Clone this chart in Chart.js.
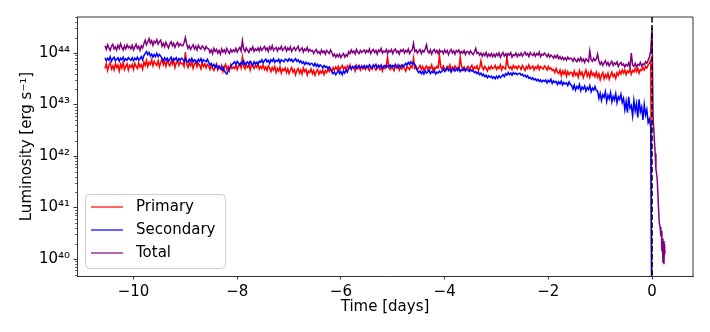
<!DOCTYPE html>
<html>
<head>
<meta charset="utf-8">
<script src="https://cdn.jsdelivr.net/npm/chart.js@4.4.0/dist/chart.umd.min.js"></script>
<style>
  html, body { margin: 0; padding: 0; background: #fff; }
  #wrap { width: 710px; height: 332px; }
</style>
</head>
<body>
<div id="wrap"><canvas id="chart" width="710" height="332"></canvas></div>
<script>
// time grid of the pre-merger run (days)
const TIME_START = -10.55;
const TIME_STEP = 0.025;
const MERGER_TIME = 0;

// log10 luminosity [erg/s] (20 samples per half day)
const LOG_PRIMARY = [
  43.70, 43.79, 43.66, 43.76, 43.81, 43.69, 43.75, 43.67, 43.80, 43.72, 43.77, 43.65, 43.78, 43.71, 43.82, 43.68, 43.74, 43.79, 43.67, 43.76,
  43.72, 43.78, 43.68, 43.80, 43.74, 43.70, 43.81, 43.73, 43.77, 43.69, 43.83, 43.76, 43.86, 43.74, 43.82, 43.78, 43.87, 43.75, 43.84, 43.79,
  43.76, 43.85, 43.73, 43.82, 43.88, 43.77, 43.83, 43.74, 43.86, 43.79, 43.75, 43.84, 43.78, 43.87, 43.72, 43.81, 43.85, 43.76, 43.83, 43.79,
  43.80, 43.74, 44.02, 43.79, 43.72, 43.81, 43.75, 43.83, 43.70, 43.78, 43.84, 43.73, 43.80, 43.76, 43.69, 43.82, 43.74, 43.79, 43.71, 43.78,
  43.75, 43.68, 43.77, 43.70, 43.66, 43.74, 43.79, 43.67, 43.73, 43.69, 43.76, 43.64, 43.72, 43.78, 43.68, 43.74, 43.66, 43.77, 43.70, 43.73,
  43.70, 43.77, 43.68, 43.75, 43.79, 43.71, 43.92, 43.73, 43.69, 43.78, 43.72, 43.76, 43.67, 43.80, 43.74, 43.70, 43.77, 43.72, 43.79, 43.69,
  43.74, 43.70, 43.77, 43.68, 43.73, 43.66, 43.75, 43.71, 43.64, 43.72, 43.67, 43.74, 43.62, 43.70, 43.65, 43.73, 43.61, 43.69, 43.66, 43.71,
  43.62, 43.69, 43.60, 43.67, 43.72, 43.63, 43.68, 43.58, 43.66, 43.70, 43.61, 43.67, 43.59, 43.71, 43.64, 43.68, 43.57, 43.65, 43.62, 43.69,
  43.60, 43.66, 43.57, 43.64, 43.68, 43.59, 43.65, 43.61, 43.67, 43.58, 43.66, 43.62, 43.69, 43.64, 43.70, 43.63, 43.72, 43.67, 43.73, 43.68,
  43.74, 43.67, 43.72, 43.76, 43.69, 43.73, 43.66, 43.75, 43.70, 43.77, 43.68, 43.74, 43.71, 43.65, 43.76, 43.70, 43.73, 43.67, 43.75, 43.69,
  43.72, 43.68, 43.75, 43.70, 43.66, 43.74, 43.69, 43.77, 43.71, 43.67, 43.73, 43.76, 43.68, 43.72, 43.65, 43.74, 43.70, 43.75, 43.92, 43.71,
  43.68, 43.74, 43.70, 43.66, 43.75, 43.71, 43.77, 43.67, 43.73, 43.69, 43.76, 43.70, 43.65, 43.74, 43.71, 43.68, 43.75, 43.72, 43.90, 43.70,
  43.73, 43.67, 43.72, 43.76, 43.69, 43.74, 43.66, 43.71, 43.75, 43.68, 43.73, 43.70, 43.77, 43.66, 43.72, 43.69, 43.74, 43.71, 43.96, 43.73,
  43.69, 43.75, 43.70, 43.66, 43.74, 43.71, 43.77, 43.68, 43.73, 43.67, 43.75, 43.70, 43.72, 43.68, 43.92, 43.74, 43.69, 43.73, 43.66, 43.71,
  43.74, 43.68, 43.72, 43.76, 43.67, 43.73, 43.70, 43.75, 43.66, 43.71, 43.85, 43.72, 43.68, 43.74, 43.70, 43.65, 43.73, 43.69, 43.75, 43.70,
  43.71, 43.76, 43.68, 43.73, 43.70, 43.77, 43.67, 43.74, 43.71, 43.69, 43.92, 43.75, 43.70, 43.73, 43.68, 43.76, 43.71, 43.74, 43.69, 43.75,
  43.73, 43.68, 43.76, 43.71, 43.66, 43.74, 43.70, 43.77, 43.69, 43.72, 43.75, 43.67, 43.73, 43.70, 43.76, 43.68, 43.74, 43.71, 43.69, 43.75,
  43.72, 43.67, 43.74, 43.69, 43.71, 43.66, 43.68, 43.62, 43.70, 43.63, 43.60, 43.67, 43.56, 43.65, 43.59, 43.66, 43.55, 43.64, 43.58, 43.63,
  43.62, 43.55, 43.65, 43.57, 43.61, 43.53, 43.66, 43.58, 43.63, 43.52, 43.60, 43.67, 43.55, 43.62, 43.53, 43.65, 43.57, 43.61, 43.54, 43.63,
  43.53, 43.60, 43.48, 43.57, 43.62, 43.50, 43.58, 43.52, 43.61, 43.49, 43.57, 43.63, 43.54, 43.59, 43.51, 43.62, 43.57, 43.65, 43.59, 43.67,
  43.61, 43.67, 43.58, 43.65, 43.62, 43.69, 43.59, 43.66, 43.63, 43.70, 43.64, 43.71, 43.61, 43.68, 43.66, 43.72, 43.67, 43.74, 43.71, 43.77,
  43.80, 43.86, 38.00
];

const LOG_SECONDARY = [
  43.91, 43.85, 43.90, 43.86, 43.93, 43.84, 43.89, 43.92, 43.85, 43.88, 43.91, 43.84, 43.90, 43.87, 43.92, 43.85, 43.89, 43.86, 43.91, 43.88,
  43.86, 43.91, 43.85, 43.90, 43.87, 43.92, 43.86, 43.89, 43.93, 43.87, 43.95, 43.99, 44.03, 43.97, 44.01, 43.94, 43.98, 43.92, 43.97, 43.93,
  43.99, 43.93, 43.97, 43.94, 43.89, 43.85, 43.91, 43.86, 43.90, 43.84, 43.88, 43.92, 43.85, 43.89, 43.87, 43.91, 43.84, 43.89, 43.86, 43.90,
  43.88, 43.83, 43.89, 43.85, 43.82, 43.88, 43.84, 43.90, 43.83, 43.87, 43.85, 43.81, 43.88, 43.84, 43.89, 43.82, 43.87, 43.85, 43.83, 43.88,
  43.82, 43.77, 43.80, 43.74, 43.78, 43.72, 43.76, 43.70, 43.75, 43.71, 43.68, 43.73, 43.66, 43.62, 43.59, 43.65, 43.70, 43.74, 43.78, 43.80,
  43.83, 43.78, 43.84, 43.80, 43.76, 43.82, 43.79, 43.85, 43.77, 43.81, 43.83, 43.78, 43.84, 43.80, 43.76, 43.83, 43.79, 43.82, 43.78, 43.84,
  43.82, 43.87, 43.81, 43.85, 43.88, 43.83, 43.86, 43.80, 43.87, 43.84, 43.89, 43.82, 43.86, 43.84, 43.88, 43.81, 43.87, 43.85, 43.83, 43.88,
  43.87, 43.84, 43.89, 43.85, 43.88, 43.83, 43.86, 43.89, 43.84, 43.87, 43.82, 43.85, 43.80, 43.83, 43.78, 43.82, 43.79, 43.81, 43.77, 43.80,
  43.79, 43.75, 43.80, 43.74, 43.78, 43.73, 43.77, 43.75, 43.71, 43.76, 43.72, 43.74, 43.70, 43.73, 43.68, 43.65, 43.60, 43.63, 43.58, 43.62,
  43.66, 43.60, 43.64, 43.58, 43.65, 43.61, 43.67, 43.63, 43.70, 43.74, 43.69, 43.73, 43.71, 43.75, 43.70, 43.73, 43.76, 43.71, 43.74, 43.72,
  43.76, 43.71, 43.75, 43.72, 43.77, 43.73, 43.70, 43.76, 43.74, 43.78, 43.71, 43.75, 43.73, 43.77, 43.70, 43.74, 43.76, 43.72, 43.75, 43.73,
  43.77, 43.72, 43.76, 43.73, 43.78, 43.74, 43.71, 43.76, 43.73, 43.77, 43.74, 43.76, 43.80, 43.77, 43.82, 43.78, 43.83, 43.79, 43.81, 43.78,
  43.72, 43.66, 43.62, 43.65, 43.60, 43.64, 43.59, 43.66, 43.61, 43.63, 43.67, 43.60, 43.64, 43.62, 43.66, 43.59, 43.63, 43.61, 43.65, 43.62,
  43.65, 43.69, 43.64, 43.68, 43.71, 43.66, 43.69, 43.63, 43.68, 43.70, 43.65, 43.69, 43.66, 43.71, 43.64, 43.68, 43.66, 43.70, 43.65, 43.69,
  43.67, 43.64, 43.68, 43.65, 43.66, 43.62, 43.64, 43.60, 43.63, 43.58, 43.61, 43.56, 43.59, 43.54, 43.57, 43.52, 43.56, 43.53, 43.55, 43.51,
  43.54, 43.50, 43.55, 43.51, 43.56, 43.52, 43.55, 43.58, 43.54, 43.60, 43.57, 43.62, 43.58, 43.61, 43.57, 43.62, 43.59, 43.61, 43.58, 43.60,
  43.61, 43.57, 43.59, 43.55, 43.57, 43.53, 43.56, 43.51, 43.53, 43.49, 43.52, 43.48, 43.50, 43.46, 43.49, 43.45, 43.48, 43.44, 43.47, 43.45,
  43.48, 43.42, 43.47, 43.44, 43.49, 43.41, 43.46, 43.43, 43.45, 43.39, 43.44, 43.40, 43.46, 43.38, 43.43, 43.40, 43.42, 43.37, 43.44, 43.39,
  43.37, 43.30, 43.38, 43.28, 43.35, 43.31, 43.39, 43.27, 43.34, 43.30, 43.36, 43.26, 43.33, 43.29, 43.37, 43.25, 43.32, 43.28, 43.35, 43.27,
  43.26, 43.12, 43.22, 43.08, 43.19, 43.14, 43.25, 43.06, 43.18, 43.11, 43.23, 43.05, 43.16, 43.09, 43.21, 43.03, 43.15, 43.10, 43.20, 43.04,
  43.12, 42.90, 43.06, 42.84, 43.15, 42.93, 42.98, 42.78, 43.08, 42.88, 43.02, 42.75, 43.10, 42.86, 42.95, 42.70, 43.00, 42.80, 42.90, 42.65,
  42.72, 42.55, 38.00
];

const LOG_TOTAL = [
  44.14, 44.07, 44.16, 44.10, 44.05, 44.13, 44.17, 44.08, 44.12, 44.06, 44.15, 44.09, 44.18, 44.11, 44.06, 44.14, 44.08, 44.16, 44.10, 44.13,
  44.08, 44.15, 44.06, 44.12, 44.17, 44.09, 44.13, 44.05, 44.14, 44.10, 44.18, 44.25, 44.16, 44.22, 44.28, 44.19, 44.24, 44.15, 44.23, 44.20,
  44.26, 44.17, 44.22, 44.25, 44.13, 44.19, 44.12, 44.21, 44.15, 44.10, 44.18, 44.22, 44.14, 44.19, 44.11, 44.17, 44.21, 44.13, 44.18, 44.15,
  44.14, 44.20, 44.30, 44.18, 44.09, 44.14, 44.07, 44.12, 44.16, 44.08, 44.13, 44.06, 44.15, 44.10, 44.08, 44.14, 44.11, 44.06, 44.13, 44.09,
  44.08, 44.01, 44.06, 43.99, 44.09, 44.03, 44.07, 44.00, 44.05, 43.98, 44.08, 44.02, 44.06, 44.00, 44.09, 44.03, 43.99, 44.07, 44.02, 44.06,
  44.03, 44.09, 44.02, 44.07, 44.11, 44.04, 44.24, 44.08, 44.03, 44.10, 44.05, 44.01, 44.09, 44.06, 44.12, 44.03, 44.08, 44.05, 44.10, 44.04,
  44.11, 44.05, 44.09, 44.13, 44.06, 44.10, 44.03, 44.12, 44.07, 44.14, 44.05, 44.09, 44.11, 44.04, 44.10, 44.07, 44.13, 44.05, 44.08, 44.12,
  44.04, 44.10, 44.06, 44.12, 44.03, 44.08, 44.11, 44.05, 44.09, 44.13, 44.04, 44.07, 44.10, 44.02, 44.08, 44.05, 44.11, 44.03, 44.07, 44.04,
  44.05, 43.99, 44.04, 44.07, 44.00, 44.03, 43.98, 44.06, 44.01, 44.04, 43.98, 44.05, 44.02, 43.99, 44.06, 44.01, 43.94, 43.98, 43.92, 43.97,
  43.93, 43.98, 43.91, 43.96, 43.99, 43.92, 43.97, 43.94, 44.03, 43.99, 44.06, 44.01, 44.04, 43.98, 44.07, 44.02, 43.99, 44.05, 44.01, 44.04,
  44.06, 44.00, 44.05, 44.02, 44.08, 43.99, 44.04, 44.07, 44.01, 44.05, 43.98, 44.06, 44.03, 44.09, 44.00, 44.04, 44.02, 44.07, 43.99, 44.05,
  44.02, 44.07, 43.99, 44.05, 44.08, 44.01, 44.04, 43.98, 44.06, 44.03, 44.07, 44.00, 44.05, 44.02, 44.08, 43.99, 44.04, 44.06, 44.19, 44.03,
  44.06, 44.00, 44.04, 44.07, 43.99, 44.05, 44.02, 44.08, 44.16, 44.03, 44.00, 44.06, 43.98, 44.04, 44.07, 44.01, 44.05, 43.99, 44.06, 44.02,
  44.04, 43.99, 44.06, 44.01, 44.05, 43.97, 44.03, 44.07, 44.00, 44.04, 43.98, 44.05, 44.02, 44.06, 43.99, 44.03, 44.00, 44.05, 43.97, 44.03,
  44.03, 43.98, 44.04, 44.00, 43.97, 44.02, 44.09, 43.99, 44.01, 43.96, 44.00, 43.94, 43.99, 43.95, 44.01, 43.93, 43.98, 43.94, 43.99, 43.93,
  43.98, 43.93, 43.99, 43.95, 44.00, 43.92, 43.97, 44.01, 43.94, 43.98, 43.93, 43.99, 43.96, 44.01, 43.92, 43.97, 43.95, 44.00, 43.93, 43.98,
  43.95, 44.00, 43.94, 43.98, 44.02, 43.96, 43.99, 43.93, 44.01, 43.97, 43.95, 44.00, 43.94, 43.99, 43.96, 44.02, 43.93, 43.98, 43.96, 44.00,
  43.97, 43.93, 43.98, 43.92, 43.96, 43.94, 43.90, 43.95, 43.91, 43.96, 43.89, 43.93, 43.88, 43.92, 43.87, 43.91, 43.86, 43.92, 43.88, 43.90,
  43.89, 43.84, 43.90, 43.86, 43.83, 43.89, 43.85, 43.91, 43.84, 43.88, 43.82, 43.89, 43.86, 43.83, 44.04, 43.87, 43.84, 43.90, 43.85, 43.88,
  43.98, 43.84, 43.78, 43.83, 43.76, 43.81, 43.85, 43.77, 43.82, 43.75, 43.80, 43.84, 43.76, 43.81, 43.78, 43.83, 43.74, 43.79, 43.82, 43.76,
  43.79, 43.73, 43.78, 43.75, 43.81, 43.72, 44.00, 43.77, 43.74, 43.80, 43.73, 43.78, 43.76, 43.82, 43.74, 43.79, 43.77, 43.83, 43.80, 43.86,
  43.92, 44.05, 44.49
];

// post-merger remnant
const POST_TIME = [0.02, 0.04, 0.06, 0.075, 0.085, 0.10, 0.12, 0.14, 0.155, 0.17, 0.18, 0.19, 0.20, 0.21, 0.22, 0.23, 0.24, 0.25];
const POST_LOG_TOTAL = [42.75, 42.40, 42.05, 41.75, 41.68, 41.55, 41.10, 40.70, 40.62, 40.45, 40.55, 40.15, 40.40, 39.93, 40.35, 39.90, 40.30, 40.10];

const X_TICKS = [-10, -8, -6, -4, -2, 0];
const Y_TICK_EXPONENTS = [40, 41, 42, 43, 44];
const X_MIN = -11.09, X_MAX = 0.79;
const Y_MIN = Math.pow(10, 39.67), Y_MAX = Math.pow(10, 44.70);

const SUP = '⁰¹²³⁴⁵⁶⁷⁸⁹';
const sup = n => String(n).split('').map(d => SUP[+d]).join('');
const mainTimes = LOG_TOTAL.map((_, i) => +(TIME_START + i * TIME_STEP).toFixed(3));
const toPoints = (times, logs) => logs.map((v, i) => ({ x: times[i], y: Math.pow(10, v) }));

Chart.defaults.font.family = '"DejaVu Sans", sans-serif';
Chart.defaults.font.size = 15;
Chart.defaults.color = '#000';

const extras = {
  id: 'extras',
  afterDatasetsDraw(chart) {
    const { ctx, chartArea: a, scales: { x } } = chart;
    const px = x.getPixelForValue(MERGER_TIME);
    ctx.save();
    ctx.strokeStyle = '#000';
    ctx.lineWidth = 1.5;
    ctx.setLineDash([5.5, 2.4]);
    ctx.beginPath();
    ctx.moveTo(px, a.top);
    ctx.lineTo(px, a.bottom);
    ctx.stroke();
    ctx.restore();
  },
  afterDraw(chart) {
    const { ctx, chartArea: a, scales: { y } } = chart;
    ctx.save();
    // top / right spines
    ctx.strokeStyle = '#000';
    ctx.lineWidth = 0.8;
    ctx.beginPath();
    ctx.moveTo(a.left, a.top); ctx.lineTo(a.right, a.top); ctx.lineTo(a.right, a.bottom);
    ctx.stroke();
    // minor log ticks
    ctx.lineWidth = 0.6;
    for (let e = 39; e <= 44; e++) {
      for (let k = 2; k <= 9; k++) {
        const v = k * Math.pow(10, e);
        if (v <= Y_MIN || v >= Y_MAX) continue;
        const py = Math.round(y.getPixelForValue(v)) + 0.5;
        ctx.beginPath();
        ctx.moveTo(a.left - 2, py); ctx.lineTo(a.left, py);
        ctx.stroke();
      }
    }
    // legend
    const bx = 85, by = 194, bw = 140, bh = 74;
    ctx.fillStyle = 'rgba(255,255,255,0.8)';
    ctx.strokeStyle = '#cccccc';
    ctx.lineWidth = 1;
    ctx.beginPath();
    ctx.roundRect(bx + 0.5, by + 0.5, bw, bh, 4);
    ctx.fill();
    ctx.stroke();
    ctx.font = '15px "DejaVu Sans"';
    ctx.textBaseline = 'middle';
    chart.data.datasets.forEach((ds, i) => {
      const ry = 207 + i * 23;
      ctx.strokeStyle = ds.borderColor;
      ctx.lineWidth = 1.2;
      ctx.beginPath();
      ctx.moveTo(91, ry); ctx.lineTo(123, ry);
      ctx.stroke();
      ctx.fillStyle = '#000';
      ctx.fillText(ds.label, 136, ry);
    });
    ctx.restore();
  }
};

new Chart(document.getElementById('chart'), {
  type: 'line',
  data: {
    datasets: [
      { label: 'Primary', data: toPoints(mainTimes, LOG_PRIMARY),
        borderColor: '#ff0000', borderWidth: 1.5, order: 3 },
      { label: 'Secondary', data: toPoints(mainTimes, LOG_SECONDARY),
        borderColor: '#0000ff', borderWidth: 1.5, order: 2 },
      { label: 'Total', data: toPoints(mainTimes.concat(POST_TIME), LOG_TOTAL.concat(POST_LOG_TOTAL)),
        borderColor: '#800080', borderWidth: 1.5, order: 1 }
    ]
  },
  options: {
    responsive: false,
    animation: false,
    layout: { padding: { top: 17, right: 17, left: 0, bottom: 0 } },
    elements: { point: { radius: 0 }, line: { tension: 0 } },
    plugins: { legend: { display: false }, tooltip: { enabled: false } },
    scales: {
      x: {
        type: 'linear', min: X_MIN, max: X_MAX,
        afterBuildTicks: s => { s.ticks = X_TICKS.map(v => ({ value: v })); },
        afterFit: s => { s.height = 56; },
        ticks: { autoSkip: false, maxRotation: 0, padding: 3.5,
          callback: v => v < 0 ? '\u2212' + (-v) : String(v) },
        grid: { drawOnChartArea: false, tickLength: 3.5, color: '#000', lineWidth: 0.8 },
        border: { color: '#000', width: 0.8 },
        title: { display: true, text: 'Time [days]', padding: { top: 0, bottom: 16 } }
      },
      y: {
        type: 'logarithmic', min: Y_MIN, max: Y_MAX,
        afterBuildTicks: s => { s.ticks = Y_TICK_EXPONENTS.map(e => ({ value: Math.pow(10, e) })); },
        afterFit: s => { s.width = 77; },
        ticks: { autoSkip: false, padding: 3.5,
          callback: v => '10' + sup(Math.round(Math.log10(v))) },
        grid: { drawOnChartArea: false, tickLength: 3.5, color: '#000', lineWidth: 0.8 },
        border: { color: '#000', width: 0.8 },
        title: { display: true, text: 'Luminosity [erg s⁻¹]', padding: { top: 18, bottom: 0 } }
      }
    }
  },
  plugins: [extras]
});
</script>
</body>
</html>
